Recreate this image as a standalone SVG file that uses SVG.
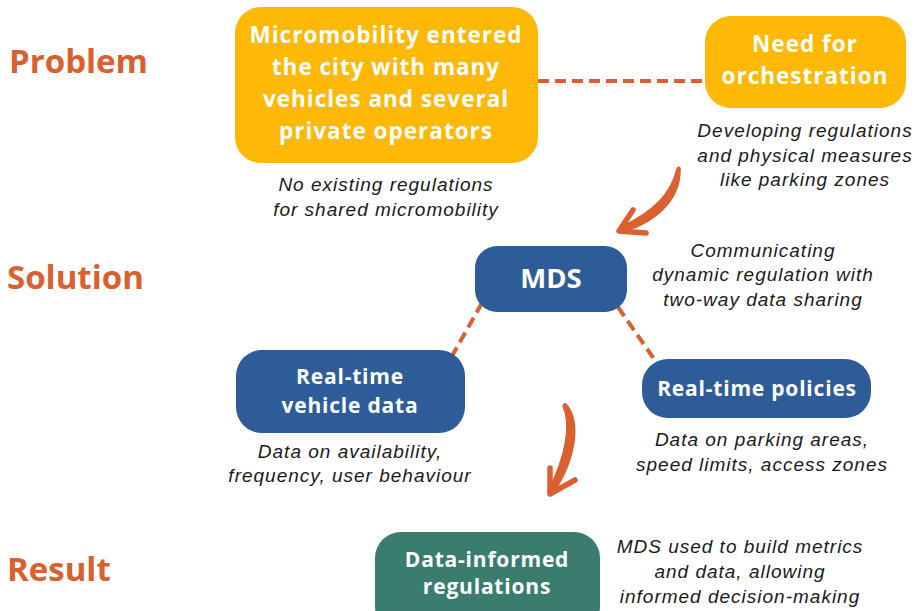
<svg xmlns="http://www.w3.org/2000/svg" width="915" height="611" viewBox="0 0 915 611">
<style>
.sec{font-family:"Open Sans","Liberation Sans",sans-serif;font-weight:700;font-size:33px;fill:#D9602F}
.bt{font-family:"Open Sans","Liberation Sans",sans-serif;font-weight:700;fill:#FFFFFF;text-anchor:middle}
.by{font-size:22.5px;letter-spacing:1px}
.bb{font-size:21px;letter-spacing:0.8px}
.cap{font-family:"Liberation Sans",Arial,sans-serif;font-style:italic;font-size:19px;letter-spacing:1px;fill:#1A1A1A;text-anchor:middle}
.y{fill:#FEB806}
.b{fill:#2E5C99}
.g{fill:#3A7D6E}
.dash{stroke:#D9602F;stroke-width:4;stroke-dasharray:11 6;fill:none}
.shaft{fill:#D9602F;stroke:#D9602F;stroke-width:1.5;stroke-linejoin:round}
.arr{stroke:#D9602F;stroke-width:5.5;fill:none;stroke-linecap:round;stroke-linejoin:round}
</style>
<rect width="915" height="611" fill="#FFFFFF"/>
<g id="labels">
<text class="sec" x="9" y="73">Problem</text>
<text class="sec" x="7" y="289">Solution</text>
<text class="sec" x="7" y="581">Result</text>
</g>
<g id="connectors">
<line class="dash" x1="538" y1="81" x2="705" y2="81"/>
<line class="dash" x1="482" y1="303" x2="452" y2="356"/>
<line class="dash" x1="618" y1="307" x2="654" y2="359"/>
<path class="shaft" d="M680,168 C681,195 662,220 623,232 L619,228 C654,212 671,194 677,169 Q678,166 680,168 Z"/>
<path class="arr" d="M633,210 L619,231 L646,233"/>
<path class="shaft" d="M566,404 C580,420 578,455 553,494 L548,491 C567,455 571,423 563,406 Q564,403 566,404 Z"/>
<path class="arr" d="M550,468 L550,494 L575,480"/>
</g>
<g id="problem">
<rect class="y" x="235" y="7" width="303" height="156" rx="26"/>
<text class="bt by"><tspan x="386" y="43">Micromobility entered</tspan><tspan x="386" y="75">the city with many</tspan><tspan x="386" y="107">vehicles and several</tspan><tspan x="386" y="139">private operators</tspan></text>
<text class="cap"><tspan x="386" y="191">No existing regulations</tspan><tspan x="386" y="216">for shared micromobility</tspan></text>
</g>
<g id="orchestration">
<rect class="y" x="705" y="16" width="201" height="92" rx="26"/>
<text class="bt by"><tspan x="805" y="52">Need for</tspan><tspan x="805" y="84">orchestration</tspan></text>
<text class="cap"><tspan x="805" y="137">Developing regulations</tspan><tspan x="805" y="162">and physical measures</tspan><tspan x="805" y="186">like parking zones</tspan></text>
</g>
<g id="mds">
<rect class="b" x="475" y="246" width="152" height="66" rx="22"/>
<text class="bt" font-size="27.5" x="551" y="288">MDS</text>
<text class="cap"><tspan x="763" y="257">Communicating</tspan><tspan x="763" y="281">dynamic regulation with</tspan><tspan x="763" y="306">two-way data sharing</tspan></text>
</g>
<g id="vehicle">
<rect class="b" x="236" y="350" width="229" height="83" rx="26"/>
<text class="bt bb"><tspan x="350" y="384">Real-time</tspan><tspan x="350" y="413">vehicle data</tspan></text>
<text class="cap"><tspan x="350" y="458">Data on availability,</tspan><tspan x="350" y="482">frequency, user behaviour</tspan></text>
</g>
<g id="policies">
<rect class="b" x="642" y="359" width="229" height="59" rx="26"/>
<text class="bt bb" x="757" y="396">Real-time policies</text>
<text class="cap"><tspan x="762" y="446">Data on parking areas,</tspan><tspan x="762" y="471">speed limits, access zones</tspan></text>
</g>
<g id="result">
<rect class="g" x="375" y="532" width="225" height="100" rx="26"/>
<text class="bt bb"><tspan x="487" y="567">Data-informed</tspan><tspan x="487" y="594">regulations</tspan></text>
<text class="cap"><tspan x="740" y="553">MDS used to build metrics</tspan><tspan x="740" y="578">and data, allowing</tspan><tspan x="740" y="603">informed decision-making</tspan></text>
</g>
</svg>
